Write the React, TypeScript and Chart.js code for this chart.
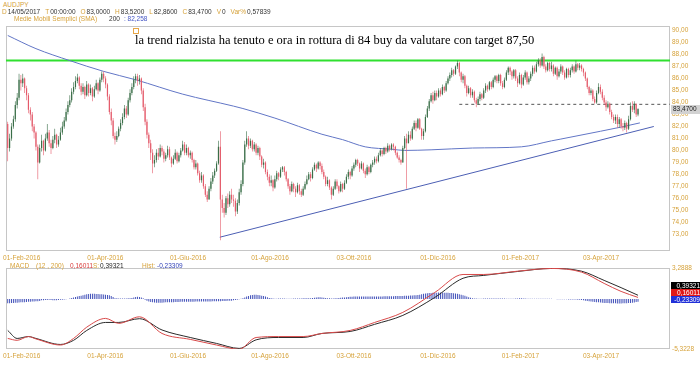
import React, { useEffect, useRef } from "react";
import { Chart, registerables } from "chart.js";
Chart.register(...registerables);

// ---------- price data (daily candles, open = previous close) ----------
const firstOpen = 82.2;
const closes = [
  80.2, 81.0, 82.0, 82.6, 83.8, 84.4, 85.9, 85.6, 86.0, 85.2, 84.6, 83.4, 83.0, 82.0, 81.5, 80.3, 79.0,
  80.2, 80.8, 80.0, 81.0, 81.5, 80.6, 80.2, 80.9, 81.3, 80.5, 80.9, 81.5, 82.0,
  82.5, 83.2, 83.8, 84.2, 84.9, 85.3,
  85.8, 86.1, 85.4, 84.9,
  85.3, 84.6, 85.5, 84.8, 85.2, 84.5, 85.1, 85.6, 85.0,
  85.9, 86.4, 86.0, 85.5,
  84.5, 83.2, 82.5, 81.2, 80.9, 81.2, 81.8,
  82.3, 82.8, 83.5, 83.0, 84.2, 84.8, 85.3, 85.9,
  86.2, 85.8, 86.0,
  85.0, 83.6, 82.4, 81.3, 80.6, 79.8, 78.9,
  79.2, 79.8, 79.5, 80.2, 79.9, 79.3, 79.6, 80.1, 79.4, 78.9, 79.3, 79.8, 79.1, 79.6, 80.0, 80.5, 79.8, 80.2, 79.6,
  79.8, 79.2, 78.6, 78.9, 78.1, 77.5, 77.9, 77.0, 76.3, 75.9, 76.8, 77.4, 77.9, 78.3, 78.9, 80.3,
  75.9,
  75.2, 74.8, 76.0, 75.5, 76.3, 75.9, 75.8, 74.9, 75.6, 76.5, 77.2,
  79.0, 80.5,
  81.0, 80.4, 80.8, 80.1, 80.5, 79.8, 80.2,
  79.5, 78.8, 79.0, 78.2, 77.8, 77.3, 77.5, 76.9,
  77.6, 78.1, 77.8, 78.4, 78.6, 78.2, 77.6, 77.0,
  76.6, 77.2, 76.8, 76.5, 77.1, 76.6, 76.3, 76.8, 77.2,
  77.6, 78.0, 77.7, 78.4, 78.8, 78.5, 79.0, 78.7,
  78.2, 77.8, 77.2, 77.5, 76.9,
  76.3, 76.8, 77.4, 77.0, 76.6, 77.2, 76.8, 77.3,
  77.8, 78.2, 77.9, 78.5, 78.8, 79.2, 78.9,
  78.5, 78.9, 78.3, 78.0, 78.6, 78.2, 78.8, 79.0,
  79.3, 79.1, 79.6, 80.0, 79.7, 80.2, 79.9, 80.4, 80.1,
  80.5, 80.3, 79.8, 79.4, 79.2, 79.0, 80.2, 81.0,
  80.6,
  81.3, 81.0, 81.8, 82.3, 81.9, 82.6, 81.8, 81.2, 81.6, 82.8,
  83.5, 84.1, 84.6, 84.2, 84.8, 84.5, 85.0, 84.7, 85.3, 85.0, 85.6, 86.0,
  86.3, 86.7, 86.4, 87.0, 87.3,
  86.5, 85.9, 86.2, 85.4, 84.8, 85.2, 84.6, 84.9, 84.2, 83.9, 84.3,
  84.7, 84.4, 85.0, 85.4, 85.1, 85.7, 85.3, 85.9, 86.2, 85.8, 86.3,
  85.6, 85.3, 85.9, 86.5, 86.9, 86.6,
  86.2, 86.7, 86.0, 85.6, 86.3, 85.5, 86.1, 86.5, 85.7, 86.0,
  86.4, 86.9, 86.6, 87.2, 87.5, 87.1, 87.8,
  87.0, 86.7, 87.3, 86.8, 87.1, 86.4, 86.9, 86.2, 86.6, 87.0, 86.5, 86.1, 86.8, 86.3, 86.7,
  87.0, 86.6, 87.2, 86.9, 87.1, 86.8, 86.5,
  86.0, 85.3, 84.8, 85.0, 84.3, 84.0, 84.8, 85.3, 84.9,
  84.4, 84.0, 83.6, 83.9, 83.2, 82.8, 82.5,
  82.8, 82.2, 82.6, 82.0, 81.9, 82.3, 81.8,
  82.6, 83.7, 83.4, 83.9, 83.0, 83.47,
];
const highs = [
  82.4, 81.4, 82.3, 82.9, 84.1, 84.8, 86.4, 86.3, 86.4, 86.1, 85.4, 84.8, 83.6, 83.2, 82.2, 81.6, 80.5,
  80.5, 81.3, 80.9, 81.4, 82.2, 81.7, 80.9, 81.2, 81.8, 81.4, 81.2, 81.9, 82.4,
  82.8, 83.5, 84.1, 84.6, 85.2, 85.7,
  86.2, 86.4, 86.2, 85.6,
  85.6, 85.4, 85.8, 85.6, 85.5, 85.3, 85.4, 85.9, 85.7,
  86.1, 86.6, 86.6, 86.2,
  85.6, 84.7, 83.5, 82.7, 81.5, 81.6, 82.0,
  82.6, 83.1, 83.8, 83.7, 84.4, 85.1, 85.6, 86.2,
  86.4, 86.4, 86.3,
  86.1, 85.2, 83.9, 82.6, 81.5, 80.9, 80.1,
  79.6, 80.1, 80.2, 80.5, 80.4, 80.1, 79.8, 80.4, 80.3, 79.5, 79.6, 80.1, 79.9, 79.8, 80.2, 80.8, 80.7, 80.5, 80.3,
  80.0, 79.9, 79.3, 79.2, 79.0, 78.3, 78.2, 78.0, 77.2, 76.6, 77.0, 77.7, 78.2, 78.5, 79.1, 80.8,
  81.6,
  76.3, 75.6, 76.2, 76.4, 76.6, 76.8, 76.3, 76.0, 75.9, 76.8, 77.5,
  79.2, 80.8,
  81.6, 81.2, 81.0, 80.9, 80.7, 80.6, 80.4,
  80.3, 79.6, 79.3, 79.1, 78.4, 78.0, 77.9, 77.6,
  77.9, 78.3, 78.2, 78.6, 78.7, 78.7, 78.3, 77.7,
  77.2, 77.4, 77.3, 77.0, 77.3, 77.2, 76.8, 77.0, 77.4,
  77.9, 78.2, 78.2, 78.6, 79.0, 78.9, 79.1, 79.1,
  78.9, 78.4, 77.9, 77.8, 77.6,
  77.0, 77.0, 77.6, 77.6, 77.1, 77.4, 77.3, 77.5,
  78.0, 78.4, 78.3, 78.7, 79.0, 79.3, 79.3,
  79.0, 79.1, 79.0, 78.5, 78.8, 78.7, 78.9, 79.2,
  79.5, 79.5, 79.8, 80.2, 80.1, 80.3, 80.3, 80.6, 80.5,
  80.6, 80.6, 80.4, 79.9, 79.6, 79.3, 80.4, 81.2,
  81.4,
  81.6, 81.6, 82.0, 82.5, 82.5, 82.7, 82.7, 81.9, 81.8, 83.0,
  83.7, 84.3, 84.8, 84.9, 85.0, 85.0, 85.2, 85.2, 85.5, 85.4, 85.8, 86.2,
  86.5, 86.9, 86.8, 87.1, 87.5,
  87.4, 86.6, 86.4, 86.3, 85.5, 85.4, 85.3, 85.1, 85.0, 84.4, 84.5,
  84.9, 84.8, 85.2, 85.6, 85.5, 85.8, 85.8, 86.1, 86.3, 86.3, 86.4,
  86.4, 85.8, 86.1, 86.7, 87.0, 87.0,
  86.7, 86.8, 86.8, 86.2, 86.5, 86.4, 86.3, 86.7, 86.6, 86.2,
  86.6, 87.1, 87.1, 87.4, 87.7, 87.7, 88.1,
  87.9, 87.2, 87.4, 87.4, 87.4, 87.2, 87.0, 87.0, 86.8, 87.2, 87.1, 86.7, 86.9, 86.9, 86.9,
  87.2, 87.1, 87.5, 87.3, 87.3, 87.2, 86.9,
  86.6, 86.1, 85.4, 85.2, 85.1, 84.5, 85.0, 85.6, 85.5,
  85.1, 84.6, 84.2, 84.1, 84.0, 83.4, 83.0,
  83.0, 83.0, 82.8, 82.7, 82.3, 82.5, 82.4,
  82.9, 84.0, 84.1, 84.1, 83.9, 83.52,
];
const lows = [
  79.1, 79.9, 80.8, 81.8, 82.4, 83.5, 84.2, 85.0, 85.3, 84.8, 84.2, 83.1, 82.5, 81.6, 81.0, 80.0, 77.6,
  78.9, 79.9, 79.6, 79.9, 80.8, 80.3, 79.7, 80.1, 80.6, 80.2, 80.3, 80.8, 81.3,
  81.8, 82.4, 83.0, 83.6, 84.0, 84.7,
  85.1, 85.6, 85.1, 84.6,
  84.7, 84.3, 84.5, 84.5, 84.6, 84.1, 84.4, 85.0, 84.7,
  84.9, 85.7, 85.7, 85.2,
  84.2, 83.0, 82.1, 81.0, 80.5, 80.7, 81.1,
  81.6, 82.1, 82.6, 82.7, 82.9, 84.0, 84.6, 85.1,
  85.6, 85.4, 85.5,
  84.7, 83.3, 82.1, 81.0, 80.2, 79.2, 78.1,
  78.6, 79.0, 79.2, 79.4, 79.6, 79.0, 79.1, 79.4, 79.2, 78.6, 78.8, 79.2, 78.9, 79.0, 79.4, 79.9, 79.6, 79.6, 79.4,
  79.3, 79.0, 78.4, 78.4, 77.9, 77.3, 77.3, 76.8, 76.1, 75.7, 75.9, 76.6, 77.2, 77.7, 78.2, 78.8,
  72.5,
  74.8, 74.4, 74.6, 75.2, 75.3, 75.6, 75.3, 74.5, 74.7, 75.4, 76.3,
  77.0, 78.8,
  80.3, 80.1, 80.2, 79.9, 79.9, 79.6, 79.6,
  79.2, 78.6, 78.5, 78.0, 77.5, 77.0, 77.0, 76.6,
  76.8, 77.4, 77.5, 77.7, 78.2, 77.9, 77.4, 76.8,
  76.3, 76.5, 76.5, 76.1, 76.4, 76.3, 76.1, 76.2, 76.7,
  77.1, 77.5, 77.4, 77.6, 78.3, 78.2, 78.4, 78.4,
  78.0, 77.6, 77.0, 77.0, 76.7,
  75.9, 76.2, 76.7, 76.8, 76.4, 76.5, 76.5, 76.7,
  77.2, 77.6, 77.6, 77.8, 78.3, 78.6, 78.7,
  78.2, 78.4, 78.1, 77.7, 77.9, 78.0, 78.1, 78.6,
  78.8, 78.9, 79.0, 79.5, 79.5, 79.6, 79.7, 79.8, 79.9,
  80.0, 80.0, 79.6, 79.3, 79.0, 78.8, 79.0, 80.1,
  76.8,
  80.6, 80.8, 80.9, 81.7, 81.6, 81.8, 81.7, 80.9, 80.9, 81.5,
  82.7, 83.3, 84.0, 83.9, 84.1, 84.2, 84.4, 84.5, 84.6, 84.8, 84.9, 85.5,
  85.8, 86.1, 86.2, 86.3, 86.8,
  86.2, 85.7, 85.6, 85.2, 84.5, 84.7, 84.4, 84.4, 84.0, 83.6, 83.8,
  84.1, 84.2, 84.3, 84.8, 84.9, 85.0, 85.1, 85.2, 85.7, 85.6, 85.6,
  85.4, 85.1, 85.2, 85.8, 86.3, 86.3,
  85.9, 86.0, 85.8, 85.3, 85.5, 85.2, 85.4, 85.9, 85.5, 85.5,
  85.8, 86.2, 86.4, 86.5, 87.0, 86.9, 87.0,
  86.8, 86.5, 86.6, 86.6, 86.6, 86.2, 86.3, 85.9, 86.1, 86.4, 86.3, 85.9, 86.0, 86.1, 86.1,
  86.5, 86.4, 86.5, 86.7, 86.7, 86.6, 86.2,
  85.8, 85.1, 84.6, 84.6, 84.1, 83.9, 83.9, 84.7, 84.7,
  84.2, 83.8, 83.3, 83.5, 83.0, 82.6, 82.3,
  82.2, 81.9, 81.9, 81.8, 81.6, 81.7, 81.5,
  81.7, 82.5, 83.2, 83.1, 82.8, 82.86,
];

// 200-day simple moving average, read at sample bars
const smaBars = [0, 15, 33, 51, 68, 93, 120, 125, 142, 167, 178, 190, 204, 211, 225, 247, 273, 289, 294, 315, 326, 336];
const smaValues = [89.6, 88.5, 87.5, 86.6, 85.9, 84.7, 83.7, 83.5, 82.7, 81.35, 80.9, 80.3, 80.1, 80.0, 80.05, 80.2, 80.3, 80.8, 80.95, 81.6, 81.95, 82.3];

// drawn lines
const trendBars = [112.7, 343.4];
const trendValues = [72.75, 82.0];
const resistanceLevel = 87.5;
const breakLevel = 83.85;
const breakFromBar = 240;

// MACD panel
const macdBars = [0, 5, 11, 15, 28, 35, 42, 52, 59, 70, 82, 97, 111, 123, 132, 144, 157, 167, 182, 195, 210, 227, 242, 253, 271, 289, 305, 317, 326, 335];
const signalValues = [-3.35, -4.2, -4.0, -4.2, -4.84, -4.4, -3.35, -2.5, -2.5, -2.1, -3.3, -4.1, -4.73, -5.26, -4.35, -4.1, -4.1, -3.67, -3.46, -2.7, -1.75, 0.16, 2.2, 2.5, 2.92, 3.24, 2.95, 1.97, 1.2, 0.39];
const macdValues = [-4.2, -4.4, -4.0, -4.25, -4.9, -4.2, -3.0, -2.07, -2.6, -1.9, -3.67, -4.3, -4.9, -5.37, -4.1, -4.0, -4.0, -3.67, -3.35, -2.5, -1.43, 0.69, 2.6, 2.6, 2.95, 3.24, 2.85, 1.65, 0.8, 0.16];
const histValues = [
  -0.45, -0.45, -0.43, -0.42, -0.4, -0.4, -0.38, -0.36, -0.35, -0.34, -0.32, -0.3, -0.3, -0.28, -0.27, -0.25, -0.24, -0.22,
  -0.15, -0.14, -0.12, -0.12, -0.1, -0.12, -0.14, -0.15, -0.13, -0.12, -0.1, -0.08, -0.06, -0.04, -0.02,
  0.05, 0.1, 0.15, 0.2, 0.25, 0.3, 0.35, 0.4, 0.45, 0.5, 0.52, 0.55, 0.55, 0.55, 0.53, 0.52, 0.5, 0.5, 0.48, 0.45, 0.42, 0.38, 0.3, 0.2,
  0.08, 0.06, 0.05, 0.05, 0.04, 0.05, 0.05, 0.06, 0.08, 0.1,
  0.15, 0.2, 0.22, 0.2, 0.15, 0.08,
  -0.1, -0.2, -0.28, -0.33, -0.36, -0.38, -0.4, -0.4, -0.4, -0.4,
  -0.38, -0.36, -0.35, -0.35, -0.35, -0.34, -0.33, -0.32, -0.32, -0.3,
  -0.3, -0.3, -0.3, -0.3, -0.3, -0.3, -0.3, -0.28, -0.28, -0.28,
  -0.28, -0.28, -0.28, -0.27, -0.27, -0.26, -0.25, -0.25, -0.25, -0.24,
  -0.24, -0.22, -0.22, -0.22, -0.2, -0.2, -0.18, -0.15, -0.12, -0.08,
  -0.04, 0.02, 0.08, 0.15, 0.25,
  0.32, 0.38, 0.42, 0.45, 0.45, 0.42, 0.4, 0.35, 0.3, 0.25, 0.18,
  0.1, 0.06, 0.04, 0.03, 0.03, 0.04, 0.05, 0.05, 0.04, 0.03,
  0.02, 0.02, 0.03, 0.04, 0.05, 0.05, 0.05, 0.05, 0.06, 0.06,
  0.06, 0.07, 0.08, 0.1, 0.12, 0.15, 0.17, 0.17, 0.15, 0.12,
  0.1, 0.08, 0.06, 0.05, 0.05, 0.06, 0.08, 0.1,
  0.12, 0.14, 0.16, 0.18, 0.2, 0.22, 0.24, 0.25, 0.25, 0.25,
  0.25, 0.26, 0.26, 0.26, 0.25, 0.25, 0.25, 0.25, 0.26, 0.26,
  0.27, 0.27, 0.27, 0.28, 0.28, 0.28, 0.28, 0.29, 0.29, 0.3,
  0.3, 0.3, 0.32, 0.32, 0.33, 0.34, 0.35, 0.36, 0.37, 0.38,
  0.4, 0.42, 0.45,
  0.5, 0.55, 0.58, 0.6, 0.62, 0.64, 0.65, 0.66, 0.67, 0.68,
  0.68, 0.68, 0.67, 0.66, 0.65, 0.64, 0.62, 0.6, 0.58, 0.55,
  0.5, 0.45, 0.4, 0.33,
  0.25, 0.18, 0.12, 0.08, 0.05, 0.04,
  0.03, 0.03, 0.03, 0.04, 0.04, 0.04, 0.05, 0.05, 0.05, 0.05,
  0.05, 0.05, 0.04, 0.04, 0.04, 0.03, 0.03, 0.03, 0.03, 0.03,
  0.04, 0.05, 0.06, 0.06, 0.05, 0.04, 0.03, 0.02, 0.02, 0.03,
  0.03, 0.03, 0.02, 0.02, 0.02, 0.02, 0.02, 0.02, 0.02, 0.02,
  -0.02, -0.02, -0.03, -0.03, -0.03, -0.04, -0.04, -0.04, -0.05, -0.05,
  -0.06, -0.06, -0.07, -0.08, -0.1, -0.12,
  -0.15, -0.18, -0.22, -0.25, -0.28, -0.3, -0.32, -0.34, -0.36, -0.38,
  -0.4, -0.42, -0.43, -0.44, -0.45, -0.46, -0.47, -0.47, -0.48, -0.48,
  -0.48, -0.47, -0.46, -0.45, -0.44, -0.42, -0.4, -0.37, -0.33, -0.3,
];
const macdLast = "0,16011";
const signalLast = "0,39321";
const histLast = "-0,23309";

// axes
const tickBars = [7.4, 51.9, 95.8, 139.4, 184, 228.6, 272.5, 315.3];
const tickLabels = ["01-Feb-2016", "01-Apr-2016", "01-Giu-2016", "01-Ago-2016", "03-Ott-2016", "01-Dic-2016", "01-Feb-2017", "03-Apr-2017"];
const priceTicks = [73, 74, 75, 76, 77, 78, 79, 80, 81, 82, 83, 84, 85, 86, 87, 88, 89, 90];
const macdAxisTicks = [3.2888, -5.3228];

const X_MIN = -1;
const X_MAX = 352;
const GOLD = "#d6a23a";
const SANS = "'Liberation Sans', Arial, sans-serif";
const UP = "#3a6e48";
const DOWN = "#e45a6a";
const fmt = (v: number, d: number) => v.toFixed(d).replace(".", ",");

const frame = {
  id: "frame",
  beforeDatasetsDraw(chart: any) {
    const { ctx, chartArea: a } = chart;
    ctx.save();
    ctx.strokeStyle = "#c6c6c6";
    ctx.lineWidth = 1;
    ctx.strokeRect(Math.round(a.left) + 0.5, Math.round(a.top) + 0.5, Math.round(a.right - a.left) - 1, Math.round(a.bottom - a.top) - 1);
    ctx.restore();
  },
};

const priceTag = {
  id: "priceTag",
  afterDraw(chart: any) {
    const { ctx, chartArea: a } = chart;
    const last = closes[closes.length - 1];
    const y = chart.scales.y.getPixelForValue(last);
    ctx.save();
    ctx.fillStyle = "#d2d2d2";
    ctx.fillRect(a.right + 1, Math.round(y) - 4, 30, 9);
    ctx.fillStyle = "#222";
    ctx.font = `6.5px ${SANS}`;
    ctx.textBaseline = "middle";
    ctx.textAlign = "left";
    ctx.fillText(fmt(last, 4), a.right + 3, Math.round(y) + 0.5);
    ctx.restore();
  },
};

const xAxis = (h: number) => ({
  type: "linear" as const,
  min: X_MIN,
  max: X_MAX,
  offset: false,
  grid: { display: false, drawTicks: false },
  border: { display: false },
  afterBuildTicks: (s: any) => {
    s.ticks = tickBars.map((v) => ({ value: v }));
  },
  afterFit: (s: any) => {
    s.height = h;
  },
  ticks: {
    autoSkip: false,
    maxRotation: 0,
    padding: 3,
    color: GOLD,
    font: { size: 6.5, family: SANS },
    callback: (_v: any, i: number) => tickLabels[i],
  },
});

function MainChart() {
  const ref = useRef<HTMLCanvasElement>(null);
  useEffect(() => {
    const opens = closes.map((c, i) => (i === 0 ? firstOpen : closes[i - 1]));
    const colors = closes.map((c, i) => (c >= opens[i] ? UP : DOWN));
    const chart = new Chart(ref.current!, {
      type: "bar",
      data: {
        datasets: [
          {
            type: "bar",
            data: closes.map((c, i) => ({ x: i, y: [opens[i], c] })) as any,
            backgroundColor: colors,
            barThickness: 1.2,
            inflateAmount: 0,
            grouped: false,
            order: 0,
          },
          {
            type: "bar",
            data: closes.map((c, i) => ({
              x: i,
              y: [Math.min(lows[i], opens[i], c), Math.max(highs[i], opens[i], c)],
            })) as any,
            backgroundColor: colors,
            barThickness: 0.6,
            inflateAmount: 0,
            grouped: false,
            order: 1,
          },
          {
            type: "line",
            data: smaBars.map((b, k) => ({ x: b, y: smaValues[k] })),
            borderColor: "#6276c6",
            borderWidth: 1,
            pointRadius: 0,
            cubicInterpolationMode: "monotone",
            order: 2,
          },
          {
            type: "line",
            data: trendBars.map((b, k) => ({ x: b, y: trendValues[k] })),
            borderColor: "#4c5fb4",
            borderWidth: 1,
            pointRadius: 0,
            order: 3,
          },
          {
            type: "line",
            data: [
              { x: X_MIN, y: resistanceLevel },
              { x: X_MAX, y: resistanceLevel },
            ],
            borderColor: "#2fe02f",
            borderWidth: 2,
            pointRadius: 0,
            order: 4,
          },
          {
            type: "line",
            data: [
              { x: breakFromBar, y: breakLevel },
              { x: X_MAX, y: breakLevel },
            ],
            borderColor: "#555",
            borderWidth: 1,
            borderDash: [3, 3],
            pointRadius: 0,
            order: 5,
          },
        ] as any,
      },
      options: {
        animation: false,
        responsive: false,
        maintainAspectRatio: false,
        devicePixelRatio: 1,
        layout: { padding: { top: 4, left: 2, right: 0, bottom: 0 } },
        plugins: { legend: { display: false }, tooltip: { enabled: false } },
        scales: {
          x: xAxis(14) as any,
          y: {
            position: "right",
            min: 71.6,
            max: 90.4,
            grid: { display: false, drawTicks: false },
            border: { display: false },
            afterBuildTicks: (s: any) => {
              s.ticks = priceTicks.map((v) => ({ value: v }));
            },
            afterFit: (s: any) => {
              s.width = 30;
            },
            ticks: {
              padding: 2,
              color: GOLD,
              font: { size: 6.5, family: SANS },
              callback: (v: any) => fmt(Number(v), 2),
            },
          },
        },
      },
      plugins: [frame, priceTag],
    });
    return () => chart.destroy();
  }, []);
  return <canvas ref={ref} width={700} height={245} style={{ position: "absolute", left: 0, top: 20, width: 700, height: 245 }} />;
}

function MacdChart() {
  const ref = useRef<HTMLCanvasElement>(null);
  useEffect(() => {
    const chart = new Chart(ref.current!, {
      type: "bar",
      data: {
        datasets: [
          {
            type: "line",
            data: macdBars.map((b, k) => ({ x: b, y: macdValues[k] })),
            borderColor: "#d84a4a",
            borderWidth: 1,
            pointRadius: 0,
            cubicInterpolationMode: "monotone",
            order: 0,
          },
          {
            type: "line",
            data: macdBars.map((b, k) => ({ x: b, y: signalValues[k] })),
            borderColor: "#2a2a2a",
            borderWidth: 1,
            pointRadius: 0,
            cubicInterpolationMode: "monotone",
            order: 1,
          },
          {
            type: "bar",
            data: histValues.map((h, i) => ({ x: i, y: h })),
            backgroundColor: "#3444b4",
            barThickness: 0.9,
            inflateAmount: 0,
            grouped: false,
            order: 2,
          },
        ] as any,
      },
      options: {
        animation: false,
        responsive: false,
        maintainAspectRatio: false,
        devicePixelRatio: 1,
        layout: { padding: { top: 6, left: 2, right: 0, bottom: 0 } },
        plugins: { legend: { display: false }, tooltip: { enabled: false } },
        scales: {
          x: xAxis(16) as any,
          y: {
            position: "right",
            min: -5.3228,
            max: 3.2888,
            grid: { display: false, drawTicks: false },
            border: { display: false },
            afterBuildTicks: (s: any) => {
              s.ticks = macdAxisTicks.map((v) => ({ value: v }));
            },
            afterFit: (s: any) => {
              s.width = 30;
            },
            ticks: {
              padding: 2,
              color: GOLD,
              font: { size: 6.5, family: SANS },
              callback: (v: any) => fmt(Number(v), 4),
            },
          },
        },
      },
      plugins: [frame],
    });
    return () => chart.destroy();
  }, []);
  return <canvas ref={ref} width={700} height={103} style={{ position: "absolute", left: 0, top: 262, width: 700, height: 103 }} />;
}

const abs = (left: number, top: number, extra: any = {}) => ({ position: "absolute" as const, left, top, whiteSpace: "nowrap" as const, lineHeight: "7px", ...extra });

export default function App() {
  const lab = { color: GOLD, marginRight: 1 };
  const val = { color: "#333", marginRight: 5 };
  return (
    <div style={{ position: "absolute", left: 0, top: 0, width: 700, height: 365, background: "#fff", overflow: "hidden", fontFamily: SANS, fontSize: 6.5 }}>
      <MainChart />
      <MacdChart />
      <div style={abs(3, 1, { color: GOLD })}>AUDJPY</div>
      <div style={abs(2, 8)}>
        <span style={lab}>D</span><span style={val}>14/05/2017</span>
        <span style={lab}>T</span><span style={val}>00:00:00</span>
        <span style={lab}>O</span><span style={val}>83,0000</span>
        <span style={lab}>H</span><span style={val}>83,5200</span>
        <span style={lab}>L</span><span style={val}>82,8600</span>
        <span style={lab}>C</span><span style={val}>83,4700</span>
        <span style={lab}>V</span><span style={val}>0</span>
        <span style={lab}>Var%</span><span style={val}>0,57839</span>
      </div>
      <div style={abs(14, 15)}>
        <span style={{ color: GOLD }}>Medie Mobili Semplici (SMA)</span>
        <span style={{ color: "#333", marginLeft: 12 }}>200</span>
        <span style={{ color: "#4455c4", marginLeft: 4 }}>: 82,258</span>
      </div>
      <div style={abs(133, 28, { width: 4, height: 4, border: "1px solid #e6a545" })} />
      <div style={abs(135, 34, { fontFamily: "'Liberation Serif', 'Times New Roman', serif", fontSize: 12.5, lineHeight: "13px", color: "#000" })}>
        la trend rialzista ha tenuto e ora in rottura di 84 buy da valutare con target 87,50
      </div>
      <div style={abs(10, 262, { color: GOLD })}>MACD</div>
      <div style={abs(36, 262, { color: GOLD })}>(12 , 200)</div>
      <div style={abs(70, 262, { color: "#d83a3a" })}>{macdLast}</div>
      <div style={abs(93, 262, { color: GOLD })}>S:</div>
      <div style={abs(100, 262, { color: "#1e1e1e" })}>{signalLast}</div>
      <div style={abs(142, 262, { color: GOLD })}>Hist:</div>
      <div style={abs(157, 262, { color: "#3343b8" })}>{histLast}</div>
      <div style={abs(671, 282, { width: 29, height: 7, background: "#000", color: "#fff", textAlign: "right" })}>{signalLast}</div>
      <div style={abs(671, 289, { width: 29, height: 7, background: "#e01818", color: "#fff", textAlign: "right" })}>{macdLast}</div>
      <div style={abs(671, 296, { width: 29, height: 7, background: "#2030d8", color: "#fff", textAlign: "right" })}>{histLast}</div>
    </div>
  );
}
